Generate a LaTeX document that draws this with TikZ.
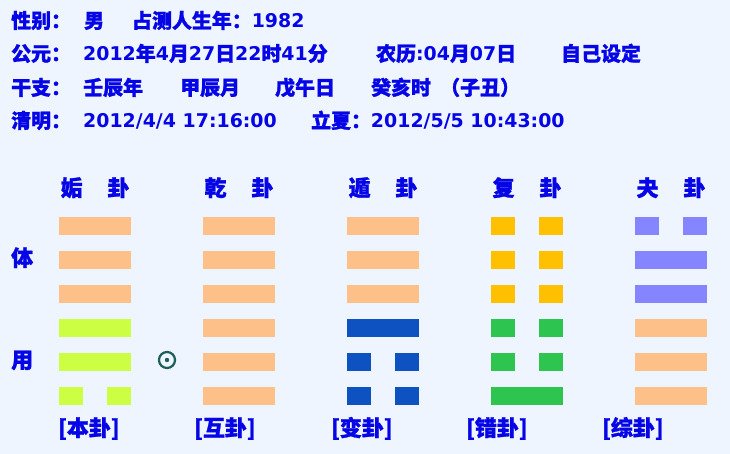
\documentclass[tikz,border=0pt]{standalone}
\usepackage{fontspec}
\setmainfont{DejaVu Sans}[Scale=0.95]
\newfontfamily\cjk{Noto Sans CJK SC}[FakeBold=1.3]
\newcommand\cj[1]{{\cjk #1}}
\definecolor{bgc}{HTML}{EEF5FF}
\definecolor{tblue}{HTML}{0505E6}
\definecolor{peach}{HTML}{FCC088}
\definecolor{lime}{HTML}{CCFF44}
\definecolor{dblue}{HTML}{0D52C0}
\definecolor{gold}{HTML}{FFC000}
\definecolor{leaf}{HTML}{2DC54F}
\definecolor{lilac}{HTML}{8585FF}
\definecolor{teal}{HTML}{1E5E5A}
\tikzset{
  txt/.style={anchor=base west, inner sep=0pt, text=tblue, font=\fontsize{20}{24}\selectfont\bfseries},
  hdr/.style={anchor=base, inner sep=0pt, text=tblue, font=\fontsize{22}{26}\selectfont\cjk\bfseries},
  lbl/.style={anchor=base west, inner sep=0pt, text=tblue, font=\fontsize{22}{26}\selectfont\cjk\bfseries},
}
\newcommand\yang[3]{\fill[#3] (#1,#2) rectangle ++(72,18);}
\newcommand\yin[3]{\fill[#3] (#1,#2) rectangle ++(24,18); \fill[#3] (#1+48,#2) rectangle ++(24,18);}
\begin{document}
\begin{tikzpicture}[x=1bp,y=-1bp]
\fill[bgc] (0,0) rectangle (730,454);
\useasboundingbox (0,0) rectangle (730,454);
% header lines
\node[txt] (a1) at (11,28) {\cj{性别：}};
\node[txt] (a2) at (84,28) {\cj{男}};
\node[txt] (a3) at (132,28) {\cj{占测人生年：}1982};
\node[txt] (b1) at (11,61) {\cj{公元：}};
\node[txt] (b2) at (83,61) {2012\cj{年}4\cj{月}27\cj{日}22\cj{时}41\cj{分}};
\node[txt] (b3) at (376,61) {\cj{农历}:04\cj{月}07\cj{日}};
\node[txt] (b4) at (561,61) {\cj{自己设定}};
\node[txt] (c1) at (11,95) {\cj{干支：}};
\node[txt] (c2) at (83,95) {\cj{壬辰年}};
\node[txt] (c3) at (180,95) {\cj{甲辰月}};
\node[txt] (c4) at (275,95) {\cj{戊午日}};
\node[txt] (c5) at (371,95) {\cj{癸亥时}};
\node[txt] (c6) at (440,95) {\cj{（子丑）}};
\node[txt] (d1) at (11,128) {\cj{清明：}};
\node[txt] (d2) at (83,128) {2012/4/4 17:16:00};
\node[txt] (d3) at (311,128) {\cj{立夏：}2012/5/5 10:43:00};
% column headers
\node[hdr] (h1) at (95,196) {姤\hspace{25bp}卦};
\node[hdr] (h2) at (239,196) {乾\hspace{25bp}卦};
\node[hdr] (h3) at (383,196) {遁\hspace{25bp}卦};
\node[hdr] (h4) at (527,196) {复\hspace{25bp}卦};
\node[hdr] (h5) at (671,196) {夬\hspace{25bp}卦};
% side labels
\node[lbl] (ti) at (11,266) {体};
\node[lbl] (yong) at (11,368) {用};
% marker
\node[circle, draw=teal, line width=2.2bp, minimum size=16bp, inner sep=0pt] (sun) at (167,360) {};
\fill[teal] (sun.center) circle (2.2bp);
% hexagrams
% col1
\yang{59}{217}{peach}\yang{59}{251}{peach}\yang{59}{285}{peach}
\yang{59}{319}{lime}\yang{59}{353}{lime}\yin{59}{387}{lime}
% col2
\yang{203}{217}{peach}\yang{203}{251}{peach}\yang{203}{285}{peach}
\yang{203}{319}{peach}\yang{203}{353}{peach}\yang{203}{387}{peach}
% col3
\yang{347}{217}{peach}\yang{347}{251}{peach}\yang{347}{285}{peach}
\yang{347}{319}{dblue}\yin{347}{353}{dblue}\yin{347}{387}{dblue}
% col4
\yin{491}{217}{gold}\yin{491}{251}{gold}\yin{491}{285}{gold}
\yin{491}{319}{leaf}\yin{491}{353}{leaf}\yang{491}{387}{leaf}
% col5
\yin{635}{217}{lilac}\yang{635}{251}{lilac}\yang{635}{285}{lilac}
\yang{635}{319}{peach}\yang{635}{353}{peach}\yang{635}{387}{peach}
% bottom labels
\node[lbl] (f1) at (58,436) {[本卦]};
\node[lbl] (f2) at (194,436) {[互卦]};
\node[lbl] (f3) at (331,436) {[变卦]};
\node[lbl] (f4) at (466,436) {[错卦]};
\node[lbl] (f5) at (602,436) {[综卦]};
\end{tikzpicture}
\end{document}
